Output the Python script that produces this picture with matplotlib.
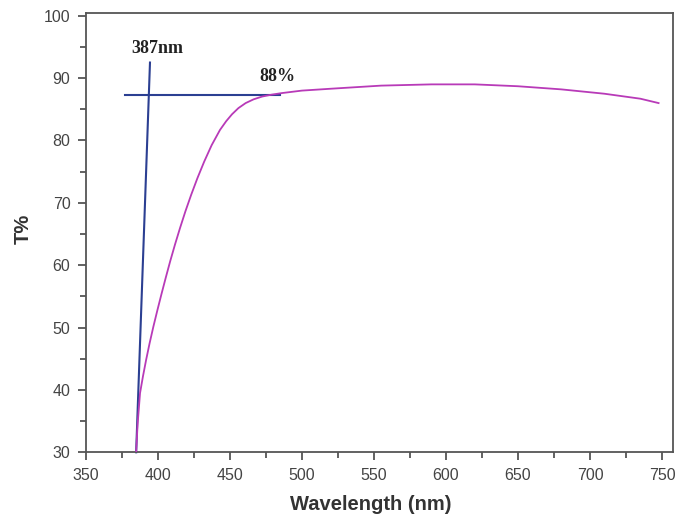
import matplotlib
matplotlib.use("Agg")
from matplotlib import pyplot as plt
from matplotlib.ticker import MultipleLocator

# transmittance curve
wavelength = [385.0, 386.0, 387.7, 389.7, 391.9, 394.3, 396.9, 399.7, 402.6, 405.6,
              408.7, 412.0, 415.5, 419.2, 423.2, 427.5, 432.2, 437.4, 443.2, 447.5,
              451.5, 456.0, 461.0, 466.5, 472.5, 479.0, 486.0, 500.0, 520.0, 555.0,
              590.0, 620.0, 650.0, 680.0, 710.0, 735.0, 747.6]
transmit = [30.0, 34.5, 39.5, 42.15, 44.8, 47.45, 50.1, 52.75, 55.4, 58.05,
            60.7, 63.35, 66.0, 68.65, 71.3, 73.95, 76.6, 79.25, 81.7, 83.1,
            84.2, 85.2, 86.0, 86.6, 87.05, 87.35, 87.6, 88.0, 88.3, 88.8,
            89.0, 89.0, 88.7, 88.2, 87.5, 86.7, 86.0]

# guide lines (band edge and plateau)
edge_x = [385.0, 394.6]
edge_y = [30.0, 92.5]
plat_x = [377.4, 485.0]
plat_y = [87.35, 87.35]

plt.rcParams['font.family'] = ['Liberation Sans', 'DejaVu Sans']

fig = plt.figure(figsize=(6.75, 5.23), dpi=100)
ax = fig.add_axes([0.127, 0.1352, 0.8696, 0.8394])

ax.plot(wavelength, transmit, color='#b83ab8', lw=1.3, zorder=3)
ax.plot(edge_x, edge_y, color='#2b3f92', lw=1.5, zorder=2, clip_on=False)
ax.plot(plat_x, plat_y, color='#2b3f92', lw=1.5, zorder=2)

ax.text(399.6, 94.7, '387nm', family='Liberation Serif', fontweight='bold',
        fontsize=13, ha='center', va='center', color='#222222')
ax.text(483.3, 90.2, '88%', family='Liberation Serif', fontweight='bold',
        fontsize=13, ha='center', va='center', color='#222222')

ax.set_xlim(350, 757.4)
ax.set_ylim(30, 100.4)
ax.xaxis.set_major_locator(MultipleLocator(50))
ax.xaxis.set_minor_locator(MultipleLocator(25))
ax.yaxis.set_major_locator(MultipleLocator(10))
ax.yaxis.set_minor_locator(MultipleLocator(5))

for s in ax.spines.values():
    s.set_color('#555555')
    s.set_linewidth(1.3)
ax.tick_params(which='both', direction='out', color='#555555', width=1.3,
               labelsize=11.5, labelcolor='#444444', pad=5.5)
ax.tick_params(which='major', length=5.5)
ax.tick_params(which='minor', length=4.5)

ax.set_xlabel('Wavelength (nm)', fontsize=14.5, fontweight='bold', color='#333333')
ax.set_ylabel('T%', fontsize=14.5, fontweight='bold', color='#333333')
ax.xaxis.set_label_coords(0.486, -0.097)
ax.yaxis.set_label_coords(-0.09, 0.51)

fig.savefig('out.png', dpi=100)
